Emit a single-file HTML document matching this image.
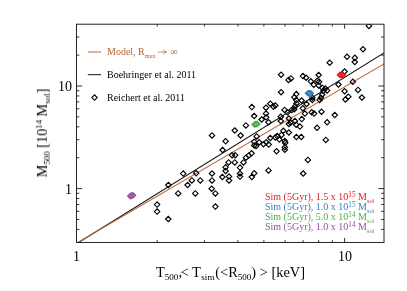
<!DOCTYPE html>
<html><head><meta charset="utf-8"><title>M500-T500</title>
<style>
html,body{margin:0;padding:0;background:#fff;}
body{width:407px;height:291px;position:relative;overflow:hidden;font-family:"Liberation Serif",serif;color:#000;}
.t{position:absolute;white-space:nowrap;line-height:1;will-change:transform;}
.tk{font-size:14px;}
.lg{font-size:10px;}
.ax{font-size:14.4px;}
sub,sup{line-height:0;position:relative;vertical-align:baseline;}
sub{font-size:63%;top:0.37em;}
sup{font-size:62%;top:-0.58em;}
.lg sup{font-size:72%;top:-0.42em;}
.lg sub{top:0.44em;}
</style></head><body>
<svg width="407" height="291" viewBox="0 0 407 291" style="position:absolute;left:0;top:0">
<defs><clipPath id="c"><rect x="76.5" y="24.2" width="307.5" height="218.2"/></clipPath></defs>
<g clip-path="url(#c)">
<line x1="76.5" y1="243.8" x2="384.0" y2="52.9" stroke="#111" stroke-width="1.1"/>
<line x1="76.5" y1="243.2" x2="384.0" y2="64.0" stroke="#bc6636" stroke-width="1.05"/>
</g>
<g clip-path="url(#c)">
<path d="M366.2 25.9L368.9 23.2L371.6 25.9L368.9 28.6Z" fill="none" stroke="#000" stroke-width="1.15"/>
<path d="M360.3 49.2L363.0 46.5L365.7 49.2L363.0 51.9Z" fill="none" stroke="#000" stroke-width="1.15"/>
<path d="M352.1 57.8L354.8 55.1L357.5 57.8L354.8 60.5Z" fill="none" stroke="#000" stroke-width="1.15"/>
<path d="M352.1 62.0L354.8 59.3L357.5 62.0L354.8 64.7Z" fill="none" stroke="#000" stroke-width="1.15"/>
<path d="M344.3 56.8L347.0 54.1L349.7 56.8L347.0 59.5Z" fill="none" stroke="#000" stroke-width="1.15"/>
<path d="M327.0 62.7L329.7 60.0L332.4 62.7L329.7 65.4Z" fill="none" stroke="#000" stroke-width="1.15"/>
<path d="M341.9 71.5L344.6 68.8L347.3 71.5L344.6 74.2Z" fill="none" stroke="#000" stroke-width="1.15"/>
<path d="M316.0 75.0L318.7 72.3L321.4 75.0L318.7 77.7Z" fill="none" stroke="#000" stroke-width="1.15"/>
<path d="M350.1 81.8L352.8 79.1L355.5 81.8L352.8 84.5Z" fill="none" stroke="#000" stroke-width="1.15"/>
<path d="M335.8 84.5L338.5 81.8L341.2 84.5L338.5 87.2Z" fill="none" stroke="#000" stroke-width="1.15"/>
<path d="M355.3 89.9L358.0 87.2L360.7 89.9L358.0 92.6Z" fill="none" stroke="#000" stroke-width="1.15"/>
<path d="M341.9 91.2L344.6 88.5L347.3 91.2L344.6 93.9Z" fill="none" stroke="#000" stroke-width="1.15"/>
<path d="M345.6 96.7L348.3 94.0L351.0 96.7L348.3 99.4Z" fill="none" stroke="#000" stroke-width="1.15"/>
<path d="M342.7 99.5L345.4 96.8L348.1 99.5L345.4 102.2Z" fill="none" stroke="#000" stroke-width="1.15"/>
<path d="M359.2 97.5L361.9 94.8L364.6 97.5L361.9 100.2Z" fill="none" stroke="#000" stroke-width="1.15"/>
<path d="M332.1 115.0L334.8 112.3L337.5 115.0L334.8 117.7Z" fill="none" stroke="#000" stroke-width="1.15"/>
<path d="M324.4 122.3L327.1 119.6L329.8 122.3L327.1 125.0Z" fill="none" stroke="#000" stroke-width="1.15"/>
<path d="M318.8 111.7L321.5 109.0L324.2 111.7L321.5 114.4Z" fill="none" stroke="#000" stroke-width="1.15"/>
<path d="M314.3 127.8L317.0 125.1L319.7 127.8L317.0 130.5Z" fill="none" stroke="#000" stroke-width="1.15"/>
<path d="M300.2 76.1L302.9 73.4L305.6 76.1L302.9 78.8Z" fill="none" stroke="#000" stroke-width="1.15"/>
<path d="M303.4 77.7L306.1 75.0L308.8 77.7L306.1 80.4Z" fill="none" stroke="#000" stroke-width="1.15"/>
<path d="M308.1 81.3L310.8 78.6L313.5 81.3L310.8 84.0Z" fill="none" stroke="#000" stroke-width="1.15"/>
<path d="M314.5 80.8L317.2 78.1L319.9 80.8L317.2 83.5Z" fill="none" stroke="#000" stroke-width="1.15"/>
<path d="M316.4 81.7L319.1 79.0L321.8 81.7L319.1 84.4Z" fill="none" stroke="#000" stroke-width="1.15"/>
<path d="M311.1 84.8L313.8 82.1L316.5 84.8L313.8 87.5Z" fill="none" stroke="#000" stroke-width="1.15"/>
<path d="M316.0 85.4L318.7 82.7L321.4 85.4L318.7 88.1Z" fill="none" stroke="#000" stroke-width="1.15"/>
<path d="M319.7 87.9L322.4 85.2L325.1 87.9L322.4 90.6Z" fill="none" stroke="#000" stroke-width="1.15"/>
<path d="M322.6 88.5L325.3 85.8L328.0 88.5L325.3 91.2Z" fill="none" stroke="#000" stroke-width="1.15"/>
<path d="M324.4 90.4L327.1 87.7L329.8 90.4L327.1 93.1Z" fill="none" stroke="#000" stroke-width="1.15"/>
<path d="M320.7 91.0L323.4 88.3L326.1 91.0L323.4 93.7Z" fill="none" stroke="#000" stroke-width="1.15"/>
<path d="M293.6 94.1L296.3 91.4L299.0 94.1L296.3 96.8Z" fill="none" stroke="#000" stroke-width="1.15"/>
<path d="M291.7 97.2L294.4 94.5L297.1 97.2L294.4 99.9Z" fill="none" stroke="#000" stroke-width="1.15"/>
<path d="M288.3 78.4L291.0 75.7L293.7 78.4L291.0 81.1Z" fill="none" stroke="#000" stroke-width="1.15"/>
<path d="M319.5 94.7L322.2 92.0L324.9 94.7L322.2 97.4Z" fill="none" stroke="#000" stroke-width="1.15"/>
<path d="M309.6 97.8L312.3 95.1L315.0 97.8L312.3 100.5Z" fill="none" stroke="#000" stroke-width="1.15"/>
<path d="M298.9 100.5L301.6 97.8L304.3 100.5L301.6 103.2Z" fill="none" stroke="#000" stroke-width="1.15"/>
<path d="M318.2 97.8L320.9 95.1L323.6 97.8L320.9 100.5Z" fill="none" stroke="#000" stroke-width="1.15"/>
<path d="M309.0 112.3L311.7 109.6L314.4 112.3L311.7 115.0Z" fill="none" stroke="#000" stroke-width="1.15"/>
<path d="M311.4 113.6L314.1 110.9L316.8 113.6L314.1 116.3Z" fill="none" stroke="#000" stroke-width="1.15"/>
<path d="M302.2 113.6L304.9 110.9L307.6 113.6L304.9 116.3Z" fill="none" stroke="#000" stroke-width="1.15"/>
<path d="M299.1 119.1L301.8 116.4L304.5 119.1L301.8 121.8Z" fill="none" stroke="#000" stroke-width="1.15"/>
<path d="M292.3 121.0L295.0 118.3L297.7 121.0L295.0 123.7Z" fill="none" stroke="#000" stroke-width="1.15"/>
<path d="M297.2 126.6L299.9 123.9L302.6 126.6L299.9 129.3Z" fill="none" stroke="#000" stroke-width="1.15"/>
<path d="M293.5 124.7L296.2 122.0L298.9 124.7L296.2 127.4Z" fill="none" stroke="#000" stroke-width="1.15"/>
<path d="M303.8 104.0L306.5 101.3L309.2 104.0L306.5 106.7Z" fill="none" stroke="#000" stroke-width="1.15"/>
<path d="M300.1 108.3L302.8 105.6L305.5 108.3L302.8 111.0Z" fill="none" stroke="#000" stroke-width="1.15"/>
<path d="M293.6 100.0L296.3 97.3L299.0 100.0L296.3 102.7Z" fill="none" stroke="#000" stroke-width="1.15"/>
<path d="M292.5 106.2L295.2 103.5L297.9 106.2L295.2 108.9Z" fill="none" stroke="#000" stroke-width="1.15"/>
<path d="M293.8 103.4L296.5 100.7L299.2 103.4L296.5 106.1Z" fill="none" stroke="#000" stroke-width="1.15"/>
<path d="M291.6 109.2L294.3 106.5L297.0 109.2L294.3 111.9Z" fill="none" stroke="#000" stroke-width="1.15"/>
<path d="M289.2 109.9L291.9 107.2L294.6 109.9L291.9 112.6Z" fill="none" stroke="#000" stroke-width="1.15"/>
<path d="M309.6 100.0L312.3 97.3L315.0 100.0L312.3 102.7Z" fill="none" stroke="#000" stroke-width="1.15"/>
<path d="M317.0 100.0L319.7 97.3L322.4 100.0L319.7 102.7Z" fill="none" stroke="#000" stroke-width="1.15"/>
<path d="M287.9 122.8L290.6 120.1L293.3 122.8L290.6 125.5Z" fill="none" stroke="#000" stroke-width="1.15"/>
<path d="M278.4 74.7L281.1 72.0L283.8 74.7L281.1 77.4Z" fill="none" stroke="#000" stroke-width="1.15"/>
<path d="M278.4 92.2L281.1 89.5L283.8 92.2L281.1 94.9Z" fill="none" stroke="#000" stroke-width="1.15"/>
<path d="M285.8 79.9L288.5 77.2L291.2 79.9L288.5 82.6Z" fill="none" stroke="#000" stroke-width="1.15"/>
<path d="M249.1 107.1L251.8 104.4L254.5 107.1L251.8 109.8Z" fill="none" stroke="#000" stroke-width="1.15"/>
<path d="M251.5 116.0L254.2 113.3L256.9 116.0L254.2 118.7Z" fill="none" stroke="#000" stroke-width="1.15"/>
<path d="M243.2 125.4L245.9 122.7L248.6 125.4L245.9 128.1Z" fill="none" stroke="#000" stroke-width="1.15"/>
<path d="M263.3 107.7L266.0 105.0L268.7 107.7L266.0 110.4Z" fill="none" stroke="#000" stroke-width="1.15"/>
<path d="M267.6 103.7L270.3 101.0L273.0 103.7L270.3 106.4Z" fill="none" stroke="#000" stroke-width="1.15"/>
<path d="M270.7 106.8L273.4 104.1L276.1 106.8L273.4 109.5Z" fill="none" stroke="#000" stroke-width="1.15"/>
<path d="M272.6 105.5L275.3 102.8L278.0 105.5L275.3 108.2Z" fill="none" stroke="#000" stroke-width="1.15"/>
<path d="M263.3 113.6L266.0 110.9L268.7 113.6L266.0 116.3Z" fill="none" stroke="#000" stroke-width="1.15"/>
<path d="M263.5 117.3L266.2 114.6L268.9 117.3L266.2 120.0Z" fill="none" stroke="#000" stroke-width="1.15"/>
<path d="M259.0 119.5L261.7 116.8L264.4 119.5L261.7 122.2Z" fill="none" stroke="#000" stroke-width="1.15"/>
<path d="M265.8 122.2L268.5 119.5L271.2 122.2L268.5 124.9Z" fill="none" stroke="#000" stroke-width="1.15"/>
<path d="M278.1 116.7L280.8 114.0L283.5 116.7L280.8 119.4Z" fill="none" stroke="#000" stroke-width="1.15"/>
<path d="M278.1 121.0L280.8 118.3L283.5 121.0L280.8 123.7Z" fill="none" stroke="#000" stroke-width="1.15"/>
<path d="M281.9 109.9L284.6 107.2L287.3 109.9L284.6 112.6Z" fill="none" stroke="#000" stroke-width="1.15"/>
<path d="M284.9 112.3L287.6 109.6L290.3 112.3L287.6 115.0Z" fill="none" stroke="#000" stroke-width="1.15"/>
<path d="M286.2 118.5L288.9 115.8L291.6 118.5L288.9 121.2Z" fill="none" stroke="#000" stroke-width="1.15"/>
<path d="M286.2 124.0L288.9 121.3L291.6 124.0L288.9 126.7Z" fill="none" stroke="#000" stroke-width="1.15"/>
<path d="M280.6 130.8L283.3 128.1L286.0 130.8L283.3 133.5Z" fill="none" stroke="#000" stroke-width="1.15"/>
<path d="M237.9 135.5L240.6 132.8L243.3 135.5L240.6 138.2Z" fill="none" stroke="#000" stroke-width="1.15"/>
<path d="M254.0 136.4L256.7 133.7L259.4 136.4L256.7 139.1Z" fill="none" stroke="#000" stroke-width="1.15"/>
<path d="M251.5 141.7L254.2 139.0L256.9 141.7L254.2 144.4Z" fill="none" stroke="#000" stroke-width="1.15"/>
<path d="M256.5 142.3L259.2 139.6L261.9 142.3L259.2 145.0Z" fill="none" stroke="#000" stroke-width="1.15"/>
<path d="M251.5 145.4L254.2 142.7L256.9 145.4L254.2 148.1Z" fill="none" stroke="#000" stroke-width="1.15"/>
<path d="M253.4 146.0L256.1 143.3L258.8 146.0L256.1 148.7Z" fill="none" stroke="#000" stroke-width="1.15"/>
<path d="M260.8 144.2L263.5 141.5L266.2 144.2L263.5 146.9Z" fill="none" stroke="#000" stroke-width="1.15"/>
<path d="M263.5 142.3L266.2 139.6L268.9 142.3L266.2 145.0Z" fill="none" stroke="#000" stroke-width="1.15"/>
<path d="M266.0 144.6L268.7 141.9L271.4 144.6L268.7 147.3Z" fill="none" stroke="#000" stroke-width="1.15"/>
<path d="M267.6 138.0L270.3 135.3L273.0 138.0L270.3 140.7Z" fill="none" stroke="#000" stroke-width="1.15"/>
<path d="M272.6 137.4L275.3 134.7L278.0 137.4L275.3 140.1Z" fill="none" stroke="#000" stroke-width="1.15"/>
<path d="M274.4 136.1L277.1 133.4L279.8 136.1L277.1 138.8Z" fill="none" stroke="#000" stroke-width="1.15"/>
<path d="M276.7 139.6L279.4 136.9L282.1 139.6L279.4 142.3Z" fill="none" stroke="#000" stroke-width="1.15"/>
<path d="M278.8 134.9L281.5 132.2L284.2 134.9L281.5 137.6Z" fill="none" stroke="#000" stroke-width="1.15"/>
<path d="M282.1 141.1L284.8 138.4L287.5 141.1L284.8 143.8Z" fill="none" stroke="#000" stroke-width="1.15"/>
<path d="M282.5 142.9L285.2 140.2L287.9 142.9L285.2 145.6Z" fill="none" stroke="#000" stroke-width="1.15"/>
<path d="M282.1 147.3L284.8 144.6L287.5 147.3L284.8 150.0Z" fill="none" stroke="#000" stroke-width="1.15"/>
<path d="M282.1 149.8L284.8 147.1L287.5 149.8L284.8 152.5Z" fill="none" stroke="#000" stroke-width="1.15"/>
<path d="M273.8 151.3L276.5 148.6L279.2 151.3L276.5 154.0Z" fill="none" stroke="#000" stroke-width="1.15"/>
<path d="M248.9 153.3L251.6 150.6L254.3 153.3L251.6 156.0Z" fill="none" stroke="#000" stroke-width="1.15"/>
<path d="M246.1 155.4L248.8 152.7L251.5 155.4L248.8 158.1Z" fill="none" stroke="#000" stroke-width="1.15"/>
<path d="M243.3 157.7L246.0 155.0L248.7 157.7L246.0 160.4Z" fill="none" stroke="#000" stroke-width="1.15"/>
<path d="M286.2 132.5L288.9 129.8L291.6 132.5L288.9 135.2Z" fill="none" stroke="#000" stroke-width="1.15"/>
<path d="M209.3 135.4L212.0 132.7L214.7 135.4L212.0 138.1Z" fill="none" stroke="#000" stroke-width="1.15"/>
<path d="M222.9 141.2L225.6 138.5L228.3 141.2L225.6 143.9Z" fill="none" stroke="#000" stroke-width="1.15"/>
<path d="M232.1 130.5L234.8 127.8L237.5 130.5L234.8 133.2Z" fill="none" stroke="#000" stroke-width="1.15"/>
<path d="M219.9 150.0L222.6 147.3L225.3 150.0L222.6 152.7Z" fill="none" stroke="#000" stroke-width="1.15"/>
<path d="M229.4 155.2L232.1 152.5L234.8 155.2L232.1 157.9Z" fill="none" stroke="#000" stroke-width="1.15"/>
<path d="M232.5 155.2L235.2 152.5L237.9 155.2L235.2 157.9Z" fill="none" stroke="#000" stroke-width="1.15"/>
<path d="M225.9 162.4L228.6 159.7L231.3 162.4L228.6 165.1Z" fill="none" stroke="#000" stroke-width="1.15"/>
<path d="M232.1 162.4L234.8 159.7L237.5 162.4L234.8 165.1Z" fill="none" stroke="#000" stroke-width="1.15"/>
<path d="M222.9 167.3L225.6 164.6L228.3 167.3L225.6 170.0Z" fill="none" stroke="#000" stroke-width="1.15"/>
<path d="M222.9 171.0L225.6 168.3L228.3 171.0L225.6 173.7Z" fill="none" stroke="#000" stroke-width="1.15"/>
<path d="M237.3 167.6L240.0 164.9L242.7 167.6L240.0 170.3Z" fill="none" stroke="#000" stroke-width="1.15"/>
<path d="M237.3 173.5L240.0 170.8L242.7 173.5L240.0 176.2Z" fill="none" stroke="#000" stroke-width="1.15"/>
<path d="M237.3 176.6L240.0 173.9L242.7 176.6L240.0 179.3Z" fill="none" stroke="#000" stroke-width="1.15"/>
<path d="M209.3 173.5L212.0 170.8L214.7 173.5L212.0 176.2Z" fill="none" stroke="#000" stroke-width="1.15"/>
<path d="M209.3 180.4L212.0 177.7L214.7 180.4L212.0 183.1Z" fill="none" stroke="#000" stroke-width="1.15"/>
<path d="M219.7 177.0L222.4 174.3L225.1 177.0L222.4 179.7Z" fill="none" stroke="#000" stroke-width="1.15"/>
<path d="M226.3 176.6L229.0 173.9L231.7 176.6L229.0 179.3Z" fill="none" stroke="#000" stroke-width="1.15"/>
<path d="M226.3 180.4L229.0 177.7L231.7 180.4L229.0 183.1Z" fill="none" stroke="#000" stroke-width="1.15"/>
<path d="M197.6 180.4L200.3 177.7L203.0 180.4L200.3 183.1Z" fill="none" stroke="#000" stroke-width="1.15"/>
<path d="M193.5 173.2L196.2 170.5L198.9 173.2L196.2 175.9Z" fill="none" stroke="#000" stroke-width="1.15"/>
<path d="M189.2 180.4L191.9 177.7L194.6 180.4L191.9 183.1Z" fill="none" stroke="#000" stroke-width="1.15"/>
<path d="M240.8 162.4L243.5 159.7L246.2 162.4L243.5 165.1Z" fill="none" stroke="#000" stroke-width="1.15"/>
<path d="M251.5 173.3L254.2 170.6L256.9 173.3L254.2 176.0Z" fill="none" stroke="#000" stroke-width="1.15"/>
<path d="M249.1 177.0L251.8 174.3L254.5 177.0L251.8 179.7Z" fill="none" stroke="#000" stroke-width="1.15"/>
<path d="M265.8 170.4L268.5 167.7L271.2 170.4L268.5 173.1Z" fill="none" stroke="#000" stroke-width="1.15"/>
<path d="M154.4 204.6L157.1 201.9L159.8 204.6L157.1 207.3Z" fill="none" stroke="#000" stroke-width="1.15"/>
<path d="M154.4 211.6L157.1 208.9L159.8 211.6L157.1 214.3Z" fill="none" stroke="#000" stroke-width="1.15"/>
<path d="M165.6 219.0L168.3 216.3L171.0 219.0L168.3 221.7Z" fill="none" stroke="#000" stroke-width="1.15"/>
<path d="M175.5 193.4L178.2 190.7L180.9 193.4L178.2 196.1Z" fill="none" stroke="#000" stroke-width="1.15"/>
<path d="M165.7 185.0L168.4 182.3L171.1 185.0L168.4 187.7Z" fill="none" stroke="#000" stroke-width="1.15"/>
<path d="M184.9 185.0L187.6 182.3L190.3 185.0L187.6 187.7Z" fill="none" stroke="#000" stroke-width="1.15"/>
<path d="M192.6 193.4L195.3 190.7L198.0 193.4L195.3 196.1Z" fill="none" stroke="#000" stroke-width="1.15"/>
<path d="M209.0 188.7L211.7 186.0L214.4 188.7L211.7 191.4Z" fill="none" stroke="#000" stroke-width="1.15"/>
<path d="M212.7 193.4L215.4 190.7L218.1 193.4L215.4 196.1Z" fill="none" stroke="#000" stroke-width="1.15"/>
<path d="M212.7 206.6L215.4 203.9L218.1 206.6L215.4 209.3Z" fill="none" stroke="#000" stroke-width="1.15"/>
<path d="M180.5 173.6L183.2 170.9L185.9 173.6L183.2 176.3Z" fill="none" stroke="#000" stroke-width="1.15"/>
<path d="M323.1 139.9L325.8 137.2L328.5 139.9L325.8 142.6Z" fill="none" stroke="#000" stroke-width="1.15"/>
<path d="M305.2 159.9L307.9 157.2L310.6 159.9L307.9 162.6Z" fill="none" stroke="#000" stroke-width="1.15"/>
<path d="M293.7 137.0L296.4 134.3L299.1 137.0L296.4 139.7Z" fill="none" stroke="#000" stroke-width="1.15"/>
<path d="M298.6 137.0L301.3 134.3L304.0 137.0L301.3 139.7Z" fill="none" stroke="#000" stroke-width="1.15"/>
<path d="M300.5 173.5L303.2 170.8L305.9 173.5L303.2 176.2Z" fill="none" stroke="#000" stroke-width="1.15"/>
</g>
<path d="M337.4 74.9L340.1 72.2L342.8 74.9L340.1 77.6Z" fill="#e41a1c" stroke="#e41a1c" stroke-width="1.3"/><path d="M338.7 74.9L341.4 72.2L344.1 74.9L341.4 77.6Z" fill="#e41a1c" stroke="#e41a1c" stroke-width="1.3"/><path d="M340.0 74.9L342.7 72.2L345.4 74.9L342.7 77.6Z" fill="#e41a1c" stroke="#e41a1c" stroke-width="1.3"/><path d="M339.2 74.9L339.9 74.2L340.6 74.9L339.9 75.6Z" fill="#fff" stroke="#fff" stroke-width="0.2" opacity="0.45"/><path d="M342.2 74.9L342.9 74.2L343.6 74.9L342.9 75.6Z" fill="#fff" stroke="#fff" stroke-width="0.2" opacity="0.45"/>
<path d="M305.4 93.3L308.1 90.6L310.8 93.3L308.1 96.0Z" fill="#377eb8" stroke="#377eb8" stroke-width="1.3"/><path d="M306.7 93.3L309.4 90.6L312.1 93.3L309.4 96.0Z" fill="#377eb8" stroke="#377eb8" stroke-width="1.3"/><path d="M308.0 93.3L310.7 90.6L313.4 93.3L310.7 96.0Z" fill="#377eb8" stroke="#377eb8" stroke-width="1.3"/><path d="M308.7 93.3L309.4 92.6L310.1 93.3L309.4 94.0Z" fill="#fff" stroke="#fff" stroke-width="0.2" opacity="0.45"/>
<path d="M252.0 124.5L254.7 121.8L257.4 124.5L254.7 127.2Z" fill="#4daf4a" stroke="#4daf4a" stroke-width="1.3"/><path d="M253.3 124.2L256.0 121.5L258.7 124.2L256.0 126.9Z" fill="#4daf4a" stroke="#4daf4a" stroke-width="1.3"/><path d="M254.6 123.9L257.3 121.2L260.0 123.9L257.3 126.6Z" fill="#4daf4a" stroke="#4daf4a" stroke-width="1.3"/><path d="M254.1 124.5L254.8 123.8L255.5 124.5L254.8 125.2Z" fill="#fff" stroke="#fff" stroke-width="0.2" opacity="0.45"/><path d="M256.5 123.9L257.2 123.2L257.9 123.9L257.2 124.6Z" fill="#fff" stroke="#fff" stroke-width="0.2" opacity="0.45"/>
<path d="M127.6 196.1L130.3 193.4L133.0 196.1L130.3 198.8Z" fill="#984ea3" stroke="#984ea3" stroke-width="1.3"/><path d="M128.9 195.7L131.6 193.0L134.3 195.7L131.6 198.4Z" fill="#984ea3" stroke="#984ea3" stroke-width="1.3"/><path d="M130.2 195.3L132.9 192.6L135.6 195.3L132.9 198.0Z" fill="#984ea3" stroke="#984ea3" stroke-width="1.3"/><path d="M129.6 196.0L130.3 195.3L131.0 196.0L130.3 196.7Z" fill="#fff" stroke="#fff" stroke-width="0.2" opacity="0.45"/><path d="M132.2 195.4L132.9 194.7L133.6 195.4L132.9 196.1Z" fill="#fff" stroke="#fff" stroke-width="0.2" opacity="0.45"/>
<rect x="76.5" y="24.2" width="307.5" height="218.25" fill="none" stroke="#1a1a1a" stroke-width="0.95"/>
<path d="M157.21 242.45v-2.3M157.21 24.2v2.3M204.42 242.45v-2.3M204.42 24.2v2.3M237.91 242.45v-2.3M237.91 24.2v2.3M263.89 242.45v-2.3M263.89 24.2v2.3M285.12 242.45v-2.3M285.12 24.2v2.3M303.07 242.45v-2.3M303.07 24.2v2.3M318.62 242.45v-2.3M318.62 24.2v2.3M332.33 242.45v-2.3M332.33 24.2v2.3M344.60 242.45v-4.5M344.60 24.2v4.5M76.5 229.43h2.8M384.0 229.43h-2.8M76.5 219.49h2.8M384.0 219.49h-2.8M76.5 211.36h2.8M384.0 211.36h-2.8M76.5 204.49h2.8M384.0 204.49h-2.8M76.5 198.54h2.8M384.0 198.54h-2.8M76.5 193.29h2.8M384.0 193.29h-2.8M76.5 188.60h5.7M384.0 188.60h-5.7M76.5 157.71h2.8M384.0 157.71h-2.8M76.5 139.65h2.8M384.0 139.65h-2.8M76.5 126.83h2.8M384.0 126.83h-2.8M76.5 116.89h2.8M384.0 116.89h-2.8M76.5 108.76h2.8M384.0 108.76h-2.8M76.5 101.89h2.8M384.0 101.89h-2.8M76.5 95.94h2.8M384.0 95.94h-2.8M76.5 90.69h2.8M384.0 90.69h-2.8M76.5 86.00h5.7M384.0 86.00h-5.7M76.5 55.11h2.8M384.0 55.11h-2.8M76.5 37.05h2.8M384.0 37.05h-2.8" stroke="#1a1a1a" stroke-width="0.9" fill="none"/>
<line x1="87.8" y1="52" x2="101" y2="52" stroke="#bc6636" stroke-width="1"/>
<line x1="87.8" y1="74.7" x2="101" y2="74.7" stroke="#111" stroke-width="1"/>
<path d="M91.8 97.6L94.5 94.9L97.2 97.6L94.5 100.3Z" fill="none" stroke="#000" stroke-width="1.15"/>
</svg>
<div class="t tk" style="right:334.8px;top:79.6px;">10</div>
<div class="t tk" style="right:334.8px;top:182.8px;">1</div>
<div class="t tk" style="left:73.0px;top:249.7px;">1</div>
<div class="t tk" style="left:337.8px;top:249.7px;">10</div>
<div class="t ax" id="xl" style="left:155.6px;top:264.7px;">T<sub>500</sub><span style="margin-right:-1.5px">,</span>&lt; T<sub style="margin-left:0.6px">sim</sub><span style="margin-left:0.8px">(</span>&lt;R<sub>500</sub>) &gt; [keV]</div>
<div class="t ax" id="yl" style="font-size:14.2px;left:41.6px;top:133.2px;transform:translate(-50%,-50%) rotate(-90deg);">M<sub>500</sub> [10<sup>14</sup> M<sub>sol</sub>]</div>
<div class="t lg" id="l1" style="left:107.2px;top:47.1px;color:#b8622f;">Model, R<sub id="mx">max</sub><svg id="ar" width="12.5" height="8" viewBox="0 0 12.5 8" style="display:inline-block;vertical-align:-1.1px;margin:0 2.3px 0 0"><path d="M2.2 4H10.2M7.6 1.9C8.2 3 9.2 3.7 10.6 4C9.2 4.3 8.2 5 7.6 6.1" fill="none" stroke="#bc6636" stroke-width="0.75" stroke-linecap="round" stroke-linejoin="round"/></svg><span id="inf" style="font-size:100%">&infin;</span></div>
<div class="t lg" id="l2" style="left:107.2px;top:70.3px;">Boehringer et al. 2011</div>
<div class="t lg" id="l3" style="left:107.2px;top:93.4px;">Reichert et al. 2011</div>
<div class="t lg" id="s1" style="right:33.0px;top:191.6px;color:#e41a1c;">Sim (5Gyr), 1.5 x 10<sup>15</sup> M<sub>sol</sub></div>
<div class="t lg" id="s2" style="right:33.0px;top:201.6px;color:#377eb8;">Sim (5Gyr), 1.0 x 10<sup>15</sup> M<sub>sol</sub></div>
<div class="t lg" id="s3" style="right:33.0px;top:211.6px;color:#4daf4a;">Sim (5Gyr), 5.0 x 10<sup>14</sup> M<sub>sol</sub></div>
<div class="t lg" id="s4" style="right:33.0px;top:221.6px;color:#984ea3;">Sim (5Gyr), 1.0 x 10<sup>14</sup> M<sub>sol</sub></div>
</body></html>
